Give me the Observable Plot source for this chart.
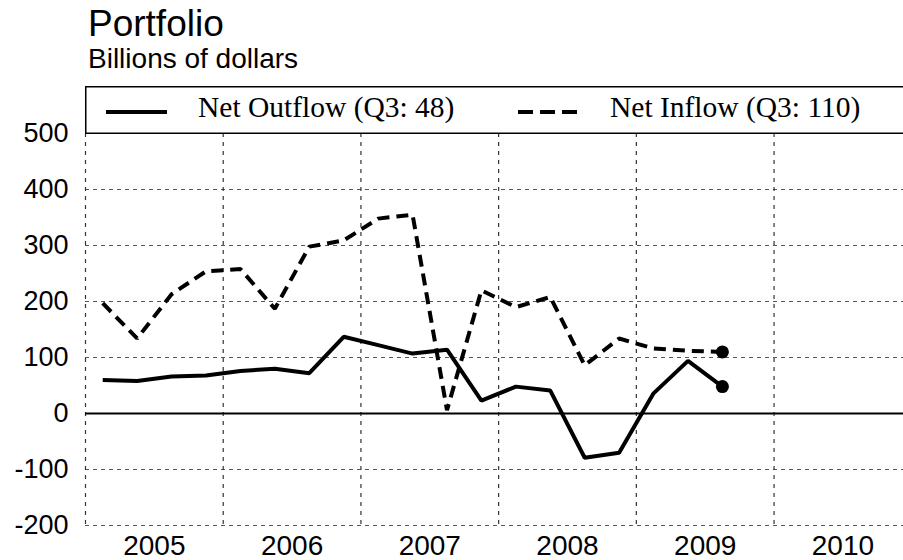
<!DOCTYPE html>
<html>
<head>
<meta charset="utf-8">
<script src="https://cdn.jsdelivr.net/npm/d3@7"></script>
<script src="https://cdn.jsdelivr.net/npm/@observablehq/plot@0.6"></script>
<style>
  html, body { margin: 0; padding: 0; background: #fff; }
  #wrap { position: relative; width: 903px; height: 560px; overflow: hidden; font-family: "Liberation Sans", Arial, sans-serif; }
  #title { position: absolute; left: 88px; top: 5px; font-size: 37px; line-height: 37px; color: #000; white-space: nowrap; }
  #subtitle { position: absolute; left: 88px; top: 45px; font-size: 28px; line-height: 28px; color: #000; white-space: nowrap; }
  #legend { position: absolute; left: 85px; top: 86px; z-index: 2; }
  #legend text { font-family: "Liberation Serif", "Times New Roman", serif; font-size: 29.5px; fill: #000; }
  #chart { position: absolute; left: 0; top: 128px; }
</style>
</head>
<body>
<div id="wrap">
  <div id="title">Portfolio</div>
  <div id="subtitle">Billions of dollars</div>
  <svg id="legend" width="818" height="48">
    <rect x="0.75" y="0.75" width="840" height="46.5" fill="#fff" stroke="#000" stroke-width="1.5"/>
    <line x1="21" y1="26" x2="82" y2="26" stroke="#000" stroke-width="4"/>
    <text x="113" y="30.7">Net Outflow (Q3: 48)</text>
    <line x1="433" y1="26" x2="492" y2="26" stroke="#000" stroke-width="4" stroke-dasharray="15,7"/>
    <text x="525" y="30.7">Net Inflow (Q3: 110)</text>
  </svg>
  <div id="chart"></div>
</div>
<script>
// Quarterly observations, 2005 Q1 – 2009 Q3
const years    = [2005,2005,2005,2005, 2006,2006,2006,2006, 2007,2007,2007,2007, 2008,2008,2008,2008, 2009,2009,2009];
const quarters = [1,2,3,4, 1,2,3,4, 1,2,3,4, 1,2,3,4, 1,2,3];
const netOutflow = [60, 58, 66, 68, 76, 80, 72, 137, 122, 107, 114, 23, 48, 41, -79, -70, 36, 94, 48];
const netInflow  = [197, 134, 213, 254, 258, 187, 298, 309, 348, 355, 6, 220, 190, 208, 86, 134, 116, 112, 110];
const yTicks = [-200, -100, 0, 100, 200, 300, 400, 500];
const yearLabels = [2005, 2006, 2007, 2008, 2009, 2010];
const yearBounds = [2005, 2006, 2007, 2008, 2009, 2010];

const t = years.map((y, i) => y + (quarters[i] - 0.5) / 4);
const outData = t.map((x, i) => ({x, y: netOutflow[i]}));
const inData = t.map((x, i) => ({x, y: netInflow[i]}));
const last = outData.length - 1;

const chart = Plot.plot({
  width: 903,
  height: 432,
  marginTop: 5,
  marginBottom: 35,
  marginLeft: 85,
  marginRight: 0,
  style: {fontFamily: "'Liberation Sans', Arial, sans-serif", fontSize: "27px", color: "#000", background: "transparent", overflow: "visible"},
  x: {domain: [2005, 2010.94]},
  y: {domain: [-200, 500]},
  marks: [
    Plot.ruleY(yTicks.filter(d => d !== 0), {stroke: "#555", strokeWidth: 1.2, strokeDasharray: "4,4"}),
    Plot.ruleX(yearBounds, {stroke: "#333", strokeWidth: 1.2, strokeDasharray: "4,5"}),
    Plot.ruleY([0], {stroke: "#000", strokeWidth: 2}),
    Plot.axisY({ticks: yTicks, tickSize: 0, tickPadding: 17, fontSize: 27, label: null, tickFormat: d => String(d)}),
    Plot.axisX({ticks: yearLabels.map(d => d + 0.5), tickSize: 0, tickPadding: 10, fontSize: 28, label: null, tickFormat: d => String(Math.floor(d))}),
    Plot.lineY(inData, {x: "x", y: "y", stroke: "#000", strokeWidth: 4, strokeDasharray: "12,7", strokeLinejoin: "miter", strokeLinecap: "butt"}),
    Plot.lineY(outData, {x: "x", y: "y", stroke: "#000", strokeWidth: 4, strokeLinejoin: "miter", strokeLinecap: "butt"}),
    Plot.dot([outData[last], inData[last]], {x: "x", y: "y", r: 6.5, fill: "#000", stroke: null})
  ]
});
document.getElementById("chart").appendChild(chart);
</script>
</body>
</html>
